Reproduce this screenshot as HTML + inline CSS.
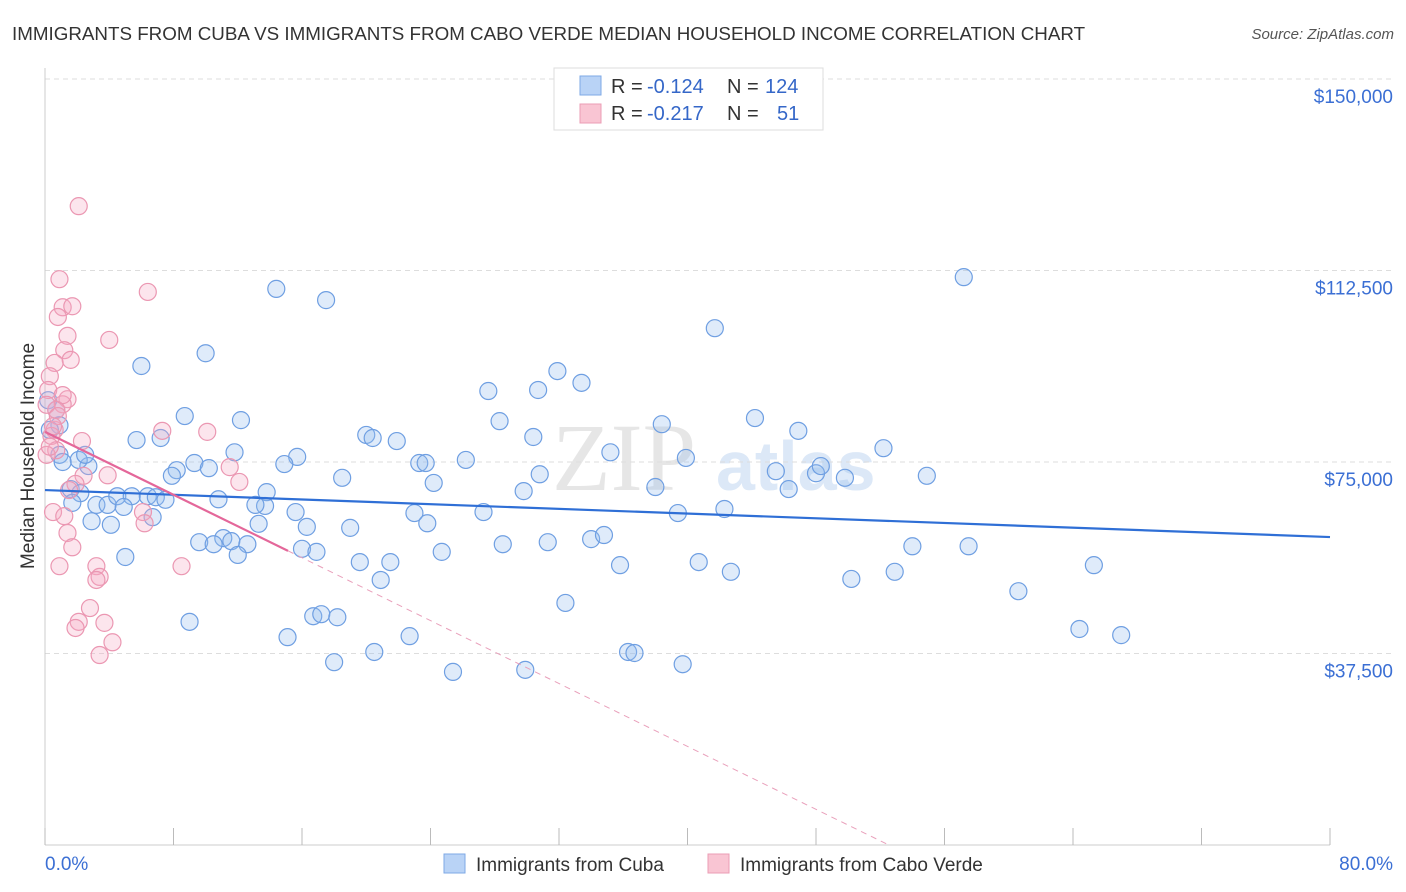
<!DOCTYPE html>
<html><head><meta charset="utf-8"><style>
body{margin:0;background:#fff;font-family:"Liberation Sans",sans-serif;}
svg{display:block}
</style></head><body>
<svg id="chart" width="1406" height="892">
<text x="12" y="40" font-size="18.8" fill="#333">IMMIGRANTS FROM CUBA VS IMMIGRANTS FROM CABO VERDE MEDIAN HOUSEHOLD INCOME CORRELATION CHART</text>
<text x="1394" y="39" font-size="15" fill="#555" font-style="italic" text-anchor="end">Source: ZipAtlas.com</text>
<g><text x="552" y="490" font-size="96" font-family="Liberation Serif,serif" fill="#e6e6e6">ZIP</text><text x="716" y="490" font-size="70" fill="#dce8f7" font-weight="bold">atlas</text></g>
<g id="grid"></g>
<g id="axes"></g>
<g id="marks"></g>
<g>
<rect x="554" y="68" width="269" height="62" fill="#fff" stroke="#ddd"/>
<rect x="580" y="76" width="21" height="19" fill="#b9d3f6" stroke="#7ea8e6"/>
<rect x="580" y="104" width="21" height="19" fill="#f9c5d3" stroke="#eb9db4"/>
<text x="611" y="93" font-size="20" fill="#333">R =</text>
<text x="647" y="93" font-size="20" fill="#3567c8">-0.124</text>
<text x="727" y="93" font-size="20" fill="#333">N =</text>
<text x="765" y="93" font-size="20" fill="#3567c8">124</text>
<text x="611" y="120" font-size="20" fill="#333">R =</text>
<text x="647" y="120" font-size="20" fill="#3567c8">-0.217</text>
<text x="727" y="120" font-size="20" fill="#333">N =</text>
<text x="777" y="120" font-size="20" fill="#3567c8">51</text>
</g>
<g>
<rect x="444" y="854" width="21" height="19" fill="#b9d3f6" stroke="#7ea8e6"/>
<text x="476" y="871" font-size="19" fill="#333">Immigrants from Cuba</text>
<rect x="708" y="854" width="21" height="19" fill="#f9c5d3" stroke="#eb9db4"/>
<text x="740" y="871" font-size="19" fill="#333">Immigrants from Cabo Verde</text>
</g>
<text x="45" y="870" font-size="19" fill="#3b6fd4">0.0%</text>
<text x="1393" y="870" font-size="19" fill="#3b6fd4" text-anchor="end">80.0%</text>
<text transform="translate(34,456) rotate(-90)" font-size="19" fill="#333" text-anchor="middle">Median Household Income</text>
</svg>
<script>
const yTicks=[37500,75000,112500,150000];
const yTickLabels=["$37,500","$75,000","$112,500","$150,000"];
const xTicks=[0,8,16,24,32,40,48,56,64,72,80];
const cubaX=[57.2,14.4,17.5,41.7,10.0,6.0,31.9,33.4,27.6,30.7,8.7,12.2,44.2,28.3,38.4,5.7,7.2,20.0,20.4,21.9,30.4,46.9,52.2,35.2,11.8,15.7,14.9,23.3,23.7,26.2,9.3,10.2,8.2,7.9,2.7,2.1,0.9,1.1,45.5,48.0,48.3,49.8,54.9,30.8,18.5,39.9,24.2,1.6,2.2,1.7,3.2,3.9,4.5,5.4,6.4,6.9,7.5,4.9,6.7,10.8,13.8,13.7,13.1,15.6,23.0,16.3,23.8,27.3,29.8,38.0,46.3,42.3,39.4,2.9,4.1,13.3,19.0,9.6,11.1,11.6,10.5,12.6,12.0,16.0,16.9,24.7,21.5,19.6,20.9,28.5,31.3,34.0,34.8,35.8,40.7,42.7,54.0,57.5,50.2,52.9,65.3,60.6,32.4,5.0,9.0,15.1,16.7,17.2,18.2,22.7,20.5,18.0,25.4,29.9,36.3,36.7,39.7,64.4,67.0,0.2,0.7,0.9,2.5,0.3];
const cubaY=[111.2,108.9,106.7,101.2,96.3,93.8,92.8,90.5,88.9,89.1,84.0,83.2,83.6,83.0,82.4,79.3,79.7,80.3,79.7,79.1,79.9,81.1,77.7,76.9,76.9,76.0,74.6,74.8,74.8,75.4,74.8,73.8,73.4,72.3,74.2,75.4,76.4,75.0,73.2,72.8,74.2,71.9,72.3,72.6,71.9,75.8,70.9,69.7,68.9,67.0,66.6,66.6,68.3,68.3,68.3,68.1,67.6,66.2,64.2,67.7,69.1,66.4,66.6,65.2,65.0,62.3,63.0,65.2,69.3,70.1,69.7,65.8,65.0,63.4,62.7,62.9,62.1,59.3,60.1,59.5,58.9,58.9,56.8,58.0,57.4,57.4,55.4,55.4,51.9,58.9,59.3,59.9,60.7,54.8,55.4,53.5,58.5,58.5,52.1,53.5,54.8,49.7,47.4,56.4,43.7,40.7,44.8,45.2,44.6,40.9,37.8,35.8,33.9,34.3,37.8,37.6,35.4,42.3,41.1,87.1,85.2,82.2,76.4,81.3];
const caboX=[2.1,0.9,6.4,1.1,1.7,0.8,1.4,4.0,1.2,1.6,0.6,0.3,0.2,1.4,1.1,0.7,0.1,0.6,0.4,2.3,7.3,10.1,0.7,0.1,11.5,3.9,2.4,1.9,12.1,0.5,1.2,6.1,6.2,1.4,1.7,0.9,3.2,3.4,3.2,8.5,2.8,2.1,1.9,3.7,4.2,3.4,1.1,1.5,0.8,0.5,0.3];
const caboY=[125.1,110.8,108.3,105.3,105.5,103.4,99.7,98.9,96.9,95.0,94.4,91.8,89.1,87.3,86.3,85.2,86.2,81.3,80.1,79.1,81.1,80.9,77.3,76.4,74.0,72.4,72.3,70.7,71.1,65.2,64.4,65.2,63.0,61.1,58.3,54.6,54.6,52.5,51.9,54.6,46.4,43.7,42.5,43.5,39.7,37.2,88.1,69.5,84.0,82.0,78.0];
const cubaTrend=[69.5,60.3];
const caboTrend=[80.9,57.6,15.13];
const NS="http://www.w3.org/2000/svg";
const X0=45,X1=1330,Y0=845,PXPER=191.5/37500;
function sx(v){return X0+(v/80)*(X1-X0);}
function sy(v){return Y0-v*PXPER;}
function mk(tag,attrs,parent){const e=document.createElementNS(NS,tag);for(const k in attrs)e.setAttribute(k,attrs[k]);parent.appendChild(e);return e;}
const grid=document.getElementById('grid'),axes=document.getElementById('axes'),marks=document.getElementById('marks');
yTicks.forEach((t,i)=>{
 const l=mk('line',{x1:X0,x2:1393,y1:sy(t),y2:sy(t),stroke:'#ddd','stroke-dasharray':'5,4'},grid);
 
 
 const tx=mk('text',{x:1393,y:sy(t)+24,'font-size':19,fill:'#3b6fd4','text-anchor':'end'},grid);
 tx.textContent=yTickLabels[i];
 
 
});
const la=mk('line',{x1:X0,x2:X0,y1:68,y2:Y0,stroke:'#ccc'},axes);


const lb=mk('line',{x1:X0,x2:X1,y1:Y0,y2:Y0,stroke:'#ccc'},axes);


xTicks.forEach(t=>{
 const l=mk('line',{x1:sx(t),x2:sx(t),y1:Y0-17,y2:Y0,stroke:'#bbb'},axes);
 
 
});
cubaX.forEach((x,i)=>{
 const c=mk('circle',{cx:sx(x),cy:sy(cubaY[i]*1000),r:8.5,fill:'rgba(150,190,240,0.3)',stroke:'#6f9fe2','stroke-width':1.2},marks);
 
 
});
caboX.forEach((x,i)=>{
 const c=mk('circle',{cx:sx(x),cy:sy(caboY[i]*1000),r:8.5,fill:'rgba(245,170,195,0.3)',stroke:'#eb97b2','stroke-width':1.2},marks);
 
 
});
const t1=mk('line',{x1:sx(0),y1:sy(cubaTrend[0]*1000),x2:sx(80),y2:sy(cubaTrend[1]*1000),stroke:'#2f6fd6','stroke-width':2.2},marks);


const slope=(caboTrend[1]-caboTrend[0])/caboTrend[2];
const xz=-caboTrend[0]/slope;
const t2=mk('line',{x1:sx(0),y1:sy(caboTrend[0]*1000),x2:sx(caboTrend[2]),y2:sy(caboTrend[1]*1000),stroke:'#e4679a','stroke-width':2.2},marks);


const t3=mk('line',{x1:sx(caboTrend[2]),y1:sy(caboTrend[1]*1000),x2:sx(xz),y2:sy(0),stroke:'#e9a0bb','stroke-width':1,'stroke-dasharray':'6,5'},marks);


</script>
</body></html>
